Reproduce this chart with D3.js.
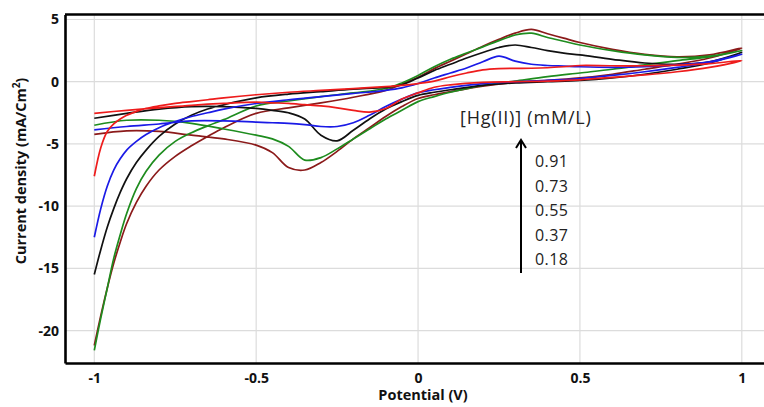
<!DOCTYPE html>
<html>
<head>
<meta charset="utf-8">
<script src="https://cdn.jsdelivr.net/npm/d3@7"></script>
<style>
  html, body { margin: 0; padding: 0; background: #fff; }
  svg { display: block; }
</style>
</head>
<body>
<svg id="chart" width="764" height="407"></svg>
<script>
// ---------------- DATA ----------------
const xTicks = [-1, -0.5, 0, 0.5, 1];
const xTickLabels = ["-1", "-0.5", "0", "0.5", "1"];
const yTicks = [5, 0, -5, -10, -15, -20];
const yTickLabels = ["5", "0", "-5", "-10", "-15", "-20"];

const concentrations = ["0.91", "0.73", "0.55", "0.37", "0.18"];

// forward (anodic) sweep potentials, V
const potentialForward = [-1, -0.98, -0.96, -0.94, -0.92, -0.9, -0.87, -0.84, -0.8, -0.75, -0.7, -0.65, -0.6, -0.5, -0.4, -0.3, -0.2, -0.1, -0.05, 0, 0.05, 0.1, 0.15, 0.2, 0.25, 0.3, 0.35, 0.4, 0.45, 0.5, 0.6, 0.7, 0.8, 0.9, 1.0];
// reverse (cathodic) sweep potentials, V
const potentialReverse = [1.0, 0.9, 0.8, 0.7, 0.6, 0.5, 0.4, 0.3, 0.2, 0.1, 0.05, 0, -0.05, -0.1, -0.15, -0.2, -0.25, -0.3, -0.35, -0.4, -0.45, -0.5, -0.6, -0.7, -0.8, -0.9, -1.0];

// current density, mA/cm2 — forward sweep
const fwd018 = [-7.6, -5.3, -4.0, -3.4, -3.0, -2.7, -2.4, -2.15, -1.95, -1.75, -1.6, -1.45, -1.3, -1.05, -0.85, -0.7, -0.55, -0.4, -0.3, -0.15, 0.05, 0.4, 0.7, 0.95, 1.05, 1.07, 1.08, 1.12, 1.2, 1.3, 1.28, 1.28, 1.33, 1.45, 1.7];
const fwd037 = [-12.5, -10.2, -8.4, -7.1, -6.2, -5.5, -4.8, -4.25, -3.7, -3.2, -2.8, -2.5, -2.2, -1.75, -1.45, -1.2, -0.95, -0.7, -0.5, -0.15, 0.3, 0.7, 1.1, 1.6, 2.05, 1.65, 1.4, 1.3, 1.25, 1.2, 1.15, 1.2, 1.35, 1.6, 2.2];
const fwd055 = [-15.5, -13.5, -11.7, -10.2, -8.9, -7.8, -6.5, -5.5, -4.4, -3.4, -2.7, -2.2, -1.85, -1.3, -1.0, -0.8, -0.6, -0.45, -0.25, 0.3, 0.9, 1.4, 1.9, 2.35, 2.75, 2.95, 2.75, 2.5, 2.3, 2.15, 1.8, 1.5, 1.4, 1.6, 2.35];
const fwd073 = [-21.6, -19.0, -16.6, -14.2, -12.3, -10.6, -8.6, -7.2, -5.9, -4.8, -4.1, -3.55, -3.05, -1.95, -1.55, -1.2, -0.9, -0.55, -0.1, 0.5, 1.2, 1.8, 2.3, 2.8, 3.3, 3.75, 3.9, 3.55, 3.25, 2.95, 2.5, 2.15, 1.95, 2.05, 2.5];
const fwd091 = [-21.2, -18.8, -16.6, -14.6, -12.9, -11.4, -9.7, -8.4, -7.1, -6.0, -5.15, -4.4, -3.7, -2.55, -2.1, -1.7, -1.25, -0.7, -0.2, 0.35, 1.05, 1.65, 2.25, 2.85, 3.4, 3.9, 4.2, 3.85, 3.5, 3.15, 2.6, 2.2, 2.0, 2.15, 2.7];

// current density, mA/cm2 — reverse sweep
const rev018 = [1.7, 1.15, 0.8, 0.55, 0.35, 0.15, 0.05, 0.0, -0.05, -0.25, -0.45, -0.9, -1.4, -2.15, -2.45, -2.3, -2.1, -1.95, -1.85, -1.75, -1.7, -1.65, -1.75, -1.9, -2.1, -2.3, -2.54];
const rev037 = [2.2, 1.55, 1.15, 0.8, 0.5, 0.25, 0.1, 0.0, -0.15, -0.45, -0.65, -0.9, -1.4, -2.0, -2.7, -3.3, -3.6, -3.6, -3.45, -3.35, -3.3, -3.25, -3.15, -3.15, -3.4, -3.6, -3.88];
const rev055 = [2.35, 1.5, 1.0, 0.6, 0.3, 0.1, 0.0, -0.1, -0.3, -0.65, -0.85, -1.1, -1.6, -2.2, -3.0, -3.9, -4.75, -4.3, -3.0, -2.5, -2.3, -2.15, -2.0, -2.0, -2.2, -2.55, -2.94];
const rev073 = [2.5, 2.0, 1.7, 1.35, 1.0, 0.7, 0.4, 0.05, -0.3, -0.85, -1.2, -1.6, -2.3, -3.0, -3.8, -4.6, -5.4, -6.1, -6.3, -5.2, -4.6, -4.3, -3.8, -3.35, -3.1, -3.1, -3.5];
const rev091 = [2.7, 1.9, 1.4, 1.0, 0.6, 0.3, 0.1, -0.05, -0.35, -0.8, -1.05, -1.35, -2.0, -2.8, -3.7, -4.6, -5.6, -6.5, -7.1, -6.9, -5.7, -5.1, -4.6, -4.3, -4.0, -3.95, -4.23];

const seriesNames = ["0.91", "0.73", "0.55", "0.37", "0.18"];
const seriesColors = ["#8b1a1a", "#1e8c1e", "#111111", "#1a1ae6", "#ee1c1c"];
const forwardSets = [fwd091, fwd073, fwd055, fwd037, fwd018];
const reverseSets = [rev091, rev073, rev055, rev037, rev018];

// ---------------- LAYOUT ----------------
const svg = d3.select("#chart");
const plotLeft = 65, plotRight = 780, plotTop = 14.5, plotBottom = 363;

const x = d3.scaleLinear().domain([-1.0905, 1.118]).range([plotLeft, plotRight]);
const y = d3.scaleLinear().domain([-22.61, 5.40]).range([plotBottom, plotTop]);

const axisFont = "'Open Sans', 'Noto Sans', sans-serif";

// grid
const grid = svg.append("g");
grid.selectAll("line.gx").data(xTicks).enter().append("line")
  .attr("x1", d => x(d)).attr("x2", d => x(d))
  .attr("y1", plotTop).attr("y2", plotBottom)
  .attr("stroke", "#dcdcdc").attr("stroke-width", 1.2);
grid.selectAll("line.gy").data(yTicks).enter().append("line")
  .attr("x1", plotLeft).attr("x2", plotRight)
  .attr("y1", d => y(d)).attr("y2", d => y(d))
  .attr("stroke", "#dcdcdc").attr("stroke-width", 1.2);

// curves
const line = d3.line()
  .x(d => x(d[0])).y(d => y(d[1]))
  .curve(d3.curveCatmullRom.alpha(0.5));

seriesNames.forEach((name, i) => {
  const pts = potentialForward.map((v, k) => [v, forwardSets[i][k]])
    .concat(potentialReverse.slice(1).map((v, k) => [v, reverseSets[i][k + 1]]));
  svg.append("path")
    .datum(pts)
    .attr("d", line)
    .attr("fill", "none")
    .attr("stroke", seriesColors[i])
    .attr("stroke-width", 1.7)
    .attr("stroke-linejoin", "round");
});

// axes (frame)
const xAxis = d3.axisBottom(x).tickValues(xTicks)
  .tickFormat((d, i) => xTickLabels[i]).tickSize(0).tickPadding(10);
const gx = svg.append("g").attr("transform", `translate(0,${plotBottom})`).call(xAxis);
gx.select(".domain").attr("stroke", "#000").attr("stroke-width", 2.6);
gx.selectAll("text").attr("font-family", axisFont).attr("font-weight", "bold")
  .attr("font-size", 14).attr("fill", "#111");

const yAxis = d3.axisLeft(y).tickValues(yTicks)
  .tickFormat((d, i) => yTickLabels[i]).tickSize(0).tickPadding(6);
const gy = svg.append("g").attr("transform", `translate(${plotLeft},0)`).call(yAxis);
gy.select(".domain").attr("stroke", "#000").attr("stroke-width", 2.6);
gy.selectAll("text").attr("font-family", axisFont).attr("font-weight", "bold")
  .attr("font-size", 14).attr("fill", "#111");

// top border
svg.append("line").attr("x1", plotLeft).attr("x2", plotRight)
  .attr("y1", plotTop).attr("y2", plotTop)
  .attr("stroke", "#000").attr("stroke-width", 2.6);

// axis titles
svg.append("text")
  .attr("x", 423).attr("y", 400)
  .attr("text-anchor", "middle")
  .attr("font-family", axisFont).attr("font-weight", "bold").attr("font-size", 14.5)
  .attr("fill", "#111")
  .text("Potential (V)");

const yTitle = svg.append("text")
  .attr("transform", "translate(26,171) rotate(-90)")
  .attr("text-anchor", "middle")
  .attr("font-family", axisFont).attr("font-weight", "bold").attr("font-size", 14.5)
  .attr("fill", "#111");
yTitle.append("tspan").text("Current density (mA/Cm");
yTitle.append("tspan").attr("dy", -6).attr("font-size", 10).text("2");
yTitle.append("tspan").attr("dy", 6).text(")");

// annotation
svg.append("text")
  .attr("x", 460).attr("y", 124)
  .attr("font-family", axisFont).attr("font-size", 18).attr("letter-spacing", 0.8)
  .attr("fill", "#222")
  .text("[Hg(II)] (mM/L)");

const arrowX = 521;
svg.append("line").attr("x1", arrowX).attr("x2", arrowX)
  .attr("y1", 273).attr("y2", 141)
  .attr("stroke", "#000").attr("stroke-width", 2);
svg.append("path")
  .attr("d", `M${arrowX - 5},${148} L${arrowX},${140} L${arrowX + 5},${148}`)
  .attr("fill", "none").attr("stroke", "#000").attr("stroke-width", 2);

svg.selectAll("text.conc").data(concentrations).enter().append("text")
  .attr("class", "conc")
  .attr("x", 535).attr("y", (d, i) => 167.4 + i * 24.4)
  .attr("font-family", axisFont).attr("font-size", 16).attr("letter-spacing", 0.4)
  .attr("fill", "#222")
  .text(d => d);
</script>
</body>
</html>
